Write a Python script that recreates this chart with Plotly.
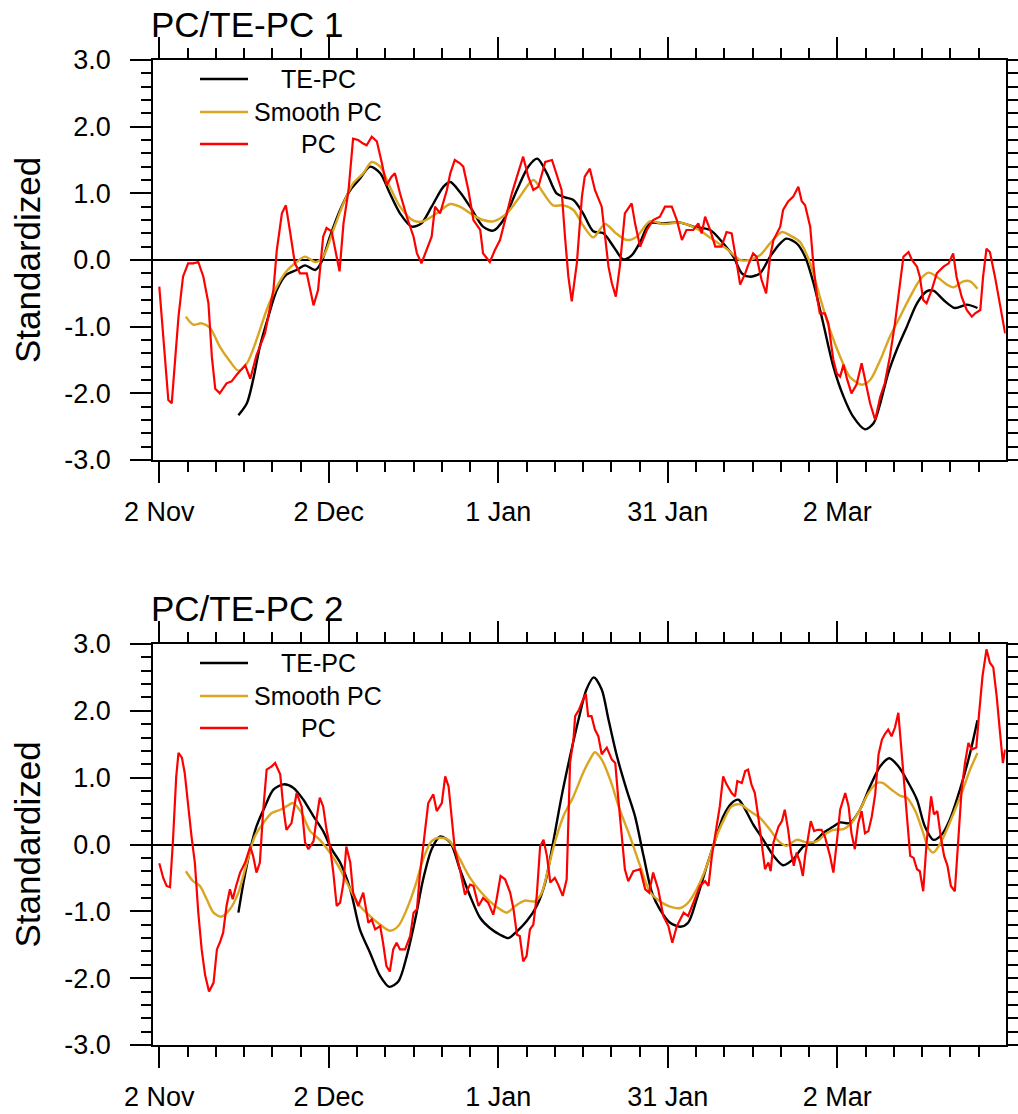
import plotly.graph_objects as go

# ---------------- data ----------------
tick_days = [0, 30, 60, 90, 120]
tick_labels = ["2 Nov", "2 Dec", "1 Jan", "31 Jan", "2 Mar"]
y_tickvals = [-3, -2, -1, 0, 1, 2, 3]
y_ticklabels = ["-3.0", "-2.0", "-1.0", "0.0", "1.0", "2.0", "3.0"]
series_names = ["TE-PC", "Smooth PC", "PC"]
panel_titles = ["PC/TE-PC 1", "PC/TE-PC 2"]

# Panel 1 - PC (red)
pc1_days = [0, 0.8, 1.6, 2.2, 2.8, 3.4, 4.2, 5.1, 6.0, 6.9, 7.8, 8.7, 9.3, 9.9, 10.7, 11.9, 12.8, 13.7,
            15.2, 16.1, 17.2, 18.7, 20.2, 20.8, 21.7, 22.4, 23.1, 24.0, 24.9, 26.1, 27.3, 28.1, 29.0,
            29.6, 30.5, 31.4, 31.9, 32.6, 33.5, 34.3, 35.2, 36.0, 36.7, 37.6, 38.5, 39.4, 40.2, 41.1,
            41.7, 42.6, 43.8, 45.0, 45.6, 46.4, 47.3, 48.2, 48.8, 49.7, 50.9, 51.5, 52.3, 53.2, 53.8,
            54.7, 55.6, 56.8, 57.3, 58.5, 59.4, 60.3, 61.2, 62.4, 63.3, 64.4, 65.3, 66.2, 67.1, 68.3,
            69.5, 70.3, 71.2, 71.8, 72.4, 73.0, 73.9, 74.8, 75.3, 76.2, 77.1, 78.3, 78.9, 79.5, 80.1,
            80.8, 81.5, 82.4, 83.6, 84.2, 85.1, 86.3, 87.4, 88.6, 89.5, 90.7, 91.6, 92.5, 93.3, 94.5,
            95.4, 96.0, 96.6, 97.5, 98.4, 99.5, 100.4, 101.3, 102.2, 102.8, 103.7, 104.2, 105.1, 105.7,
            106.6, 107.4, 108.1, 108.7, 109.9, 110.4, 111.3, 112.2, 113.1, 113.7, 114.3, 115.2, 115.8,
            116.4, 116.9, 117.8, 118.4, 119.3, 119.9, 120.5, 121.1, 121.7, 122.5, 123.4, 124.3, 124.9,
            125.8, 126.7, 127.6, 128.4, 129.3, 130.2, 131.1, 131.7, 132.6, 133.2, 134.1, 134.6, 135.2,
            135.8, 136.7, 137.6, 138.8, 139.7, 140.5, 141.1, 142.0, 142.9, 143.8, 144.4, 145.3, 145.8,
            146.4, 147.0, 147.9, 148.8, 149.7]
pc1_vals = [-0.40, -1.30, -2.10, -2.15, -1.50, -0.85, -0.25, -0.05, -0.05, -0.03, -0.25, -0.65, -1.45,
            -1.93, -2.00, -1.85, -1.82, -1.72, -1.58, -1.78, -1.43, -1.10, -0.45, 0.15, 0.70, 0.82, 0.45,
            -0.05, -0.20, -0.20, -0.68, -0.45, 0.35, 0.48, 0.43, 0.05, -0.17, 0.55, 1.05, 1.82, 1.80,
            1.75, 1.72, 1.85, 1.78, 1.45, 1.12, 1.25, 1.30, 1.00, 0.65, 0.35, 0.10, -0.05, 0.15, 0.35,
            0.80, 0.70, 1.05, 1.30, 1.50, 1.45, 1.40, 1.05, 0.60, 0.45, 0.10, -0.03, 0.15, 0.30, 0.60,
            1.00, 1.25, 1.55, 1.25, 1.05, 1.10, 1.47, 1.50, 1.27, 1.05, 0.35, -0.25, -0.62, -0.05, 0.95,
            1.25, 1.37, 1.05, 0.80, 0.35, -0.10, -0.35, -0.55, -0.10, 0.70, 0.85, 0.55, 0.20, 0.45, 0.60,
            0.65, 0.80, 0.80, 0.60, 0.30, 0.45, 0.45, 0.55, 0.40, 0.65, 0.45, 0.20, 0.20, 0.42, 0.40,
            -0.05, -0.37, -0.20, -0.08, 0.10, 0.05, -0.30, -0.50, 0.05, 0.30, 0.50, 0.75, 0.88, 0.95,
            1.10, 0.88, 0.82, 0.50, -0.10, -0.55, -0.80, -0.80, -0.95, -1.50, -1.70, -1.75, -1.57, -1.78,
            -2.00, -1.87, -1.55, -1.80, -2.15, -2.40, -2.05, -1.85, -1.45, -0.95, -0.35, 0.05, 0.12, 0.00,
            -0.10, -0.25, -0.60, -0.65, -0.45, -0.20, -0.10, -0.05, 0.10, -0.25, -0.55, -0.75, -0.85,
            -0.80, -0.75, -0.25, 0.17, 0.12, -0.25, -0.65, -1.10]

# Panel 1 - TE-PC (black)
te1_days = [14.0, 15.5, 16.6, 17.8, 19.3, 20.8, 22.5, 24.3, 25.8, 27.6, 28.7, 30.2, 32.0, 33.8, 35.5,
            37.3, 39.1, 40.8, 42.6, 44.7, 46.4, 48.2, 50.3, 51.5, 53.2, 55.0, 57.3, 59.1, 60.9, 63.3,
            65.3, 66.9, 68.6, 70.3, 71.8, 73.3, 75.0, 76.8, 78.6, 80.4, 82.1, 83.6, 85.1, 86.8, 89.2,
            92.2, 94.5, 97.5, 99.8, 101.6, 103.1, 104.5, 106.3, 108.1, 109.9, 111.0, 112.8, 114.3,
            115.8, 117.5, 119.3, 121.1, 122.8, 124.9, 126.4, 127.6, 129.0, 130.5, 132.3, 134.1, 135.8,
            137.0, 138.8, 140.8, 142.9, 144.8]
te1_vals = [-2.33, -2.15, -1.80, -1.30, -0.85, -0.45, -0.22, -0.15, -0.08, -0.15, -0.03, 0.35, 0.75,
            1.05, 1.22, 1.40, 1.30, 1.00, 0.70, 0.50, 0.55, 0.80, 1.10, 1.17, 1.02, 0.80, 0.50, 0.44,
            0.60, 1.05, 1.40, 1.52, 1.30, 1.00, 0.94, 0.90, 0.70, 0.43, 0.40, 0.20, 0.01, 0.07, 0.27,
            0.55, 0.55, 0.56, 0.50, 0.45, 0.25, 0.05, -0.20, -0.25, -0.20, 0.05, 0.25, 0.32, 0.25, 0.05,
            -0.35, -0.95, -1.60, -2.05, -2.35, -2.54, -2.45, -2.15, -1.70, -1.35, -1.00, -0.65, -0.47,
            -0.46, -0.60, -0.72, -0.67, -0.72]

# Panel 1 - Smooth PC (goldenrod)
sm1_days = [4.7, 6.0, 7.5, 9.0, 10.7, 12.5, 14.0, 15.5, 17.2, 19.0, 20.8, 22.5, 24.3, 25.8, 27.6, 29.0,
            30.8, 32.6, 34.3, 36.1, 37.6, 39.1, 40.8, 42.6, 45.0, 46.7, 49.1, 51.5, 53.2, 55.6, 57.3,
            59.1, 61.5, 63.8, 66.2, 68.0, 69.7, 71.5, 73.3, 75.0, 76.8, 78.9, 80.7, 82.7, 84.5, 86.8,
            89.2, 92.2, 95.1, 98.1, 100.4, 102.8, 104.5, 106.3, 108.1, 110.2, 111.6, 113.4, 115.2,
            116.9, 118.7, 120.5, 122.2, 124.3, 125.8, 127.6, 129.3, 131.1, 132.9, 134.6, 136.1, 137.6,
            139.4, 140.5, 142.3, 143.5, 144.8]
sm1_vals = [-0.85, -0.97, -0.95, -1.02, -1.30, -1.52, -1.66, -1.55, -1.20, -0.75, -0.40, -0.17, -0.03,
            0.05, -0.03, 0.05, 0.45, 0.85, 1.15, 1.30, 1.47, 1.40, 1.10, 0.80, 0.59, 0.58, 0.70, 0.84,
            0.80, 0.67, 0.60, 0.58, 0.70, 0.95, 1.20, 1.00, 0.82, 0.82, 0.75, 0.52, 0.34, 0.54, 0.41,
            0.30, 0.35, 0.58, 0.54, 0.56, 0.47, 0.30, 0.17, 0.00, 0.00, 0.07, 0.25, 0.42, 0.37, 0.27,
            -0.05, -0.55, -1.05, -1.45, -1.75, -1.87, -1.80, -1.50, -1.15, -0.85, -0.55, -0.30, -0.19,
            -0.25, -0.37, -0.41, -0.32, -0.32, -0.43]

# Panel 2 - PC (red)
pc2_days = [0, 0.7, 1.3, 1.9, 2.4, 3.0, 3.4, 4.0, 4.5, 5.1, 5.7, 6.3, 6.9, 7.5, 8.1, 8.8, 9.6, 10.2, 10.7,
            11.3, 11.9, 12.5, 13.0, 13.6, 14.3, 15.2, 16.1, 16.6, 17.2, 17.8, 18.4, 19.0, 19.9, 20.5,
            21.4, 22.0, 22.5, 23.4, 24.3, 25.2, 25.8, 26.4, 27.3, 27.9, 28.4, 29.0, 29.6, 30.2, 30.8,
            31.4, 32.0, 32.6, 33.1, 33.8, 34.3, 35.2, 36.1, 37.0, 37.6, 38.2, 39.1, 39.6, 40.2, 40.8,
            41.4, 42.0, 42.6, 43.5, 44.4, 45.0, 45.6, 46.1, 46.7, 47.6, 48.5, 49.1, 50.0, 50.6, 51.2,
            51.8, 52.3, 53.2, 54.1, 55.0, 55.6, 56.5, 57.3, 58.2, 59.1, 59.7, 60.4, 61.2, 62.1, 62.7,
            63.3, 63.8, 64.4, 65.0, 65.6, 66.2, 66.8, 67.4, 68.0, 68.6, 69.2, 70.0, 70.6, 71.4, 72.1,
            72.7, 73.3, 73.6, 74.3, 75.0, 75.5, 75.9, 76.5, 77.1, 77.7, 78.3, 79.2, 80.1, 80.7, 81.2,
            81.8, 82.4, 83.0, 83.9, 85.1, 86.0, 86.7, 87.4, 88.3, 89.2, 90.1, 90.8, 91.6, 92.8, 93.6,
            94.5, 95.7, 96.6, 97.2, 97.8, 98.7, 99.2, 99.8, 100.4, 101.3, 101.9, 102.3, 103.1, 103.7,
            104.2, 104.8, 105.4, 106.0, 106.6, 107.2, 107.8, 108.2, 108.7, 109.6, 110.2, 110.7, 111.3,
            111.8, 112.3, 112.8, 113.4, 113.9, 114.3, 114.9, 115.3, 115.9, 116.5, 117.2, 117.8, 118.7,
            119.3, 119.9, 120.5, 121.4, 122.0, 122.5, 123.1, 123.7, 124.3, 124.9, 125.5, 126.1, 126.7,
            127.3, 127.9, 128.4, 129.0, 129.6, 130.2, 130.8, 131.2, 131.7, 132.3, 132.9, 133.5, 134.1,
            134.6, 135.2, 135.8, 136.6, 137.1, 137.7, 138.3, 138.9, 139.5, 140.1, 140.8, 141.4, 142.0,
            142.6, 143.2, 143.8, 144.6, 145.1, 145.7, 146.4, 147.0, 147.6, 148.2, 148.8, 149.3, 149.7]
pc2_vals = [-0.28, -0.50, -0.62, -0.64, 0.03, 1.02, 1.37, 1.30, 1.07, 0.57, 0.12, -0.28, -1.02, -1.57,
            -1.95, -2.20, -2.07, -1.57, -1.47, -1.32, -0.92, -0.67, -0.82, -0.62, -0.42, -0.27, -0.03,
            -0.17, -0.42, -0.27, 0.52, 1.12, 1.17, 1.22, 1.05, 0.52, 0.22, 0.32, 0.77, 0.57, 0.03, -0.07,
            0.05, 0.42, 0.70, 0.57, 0.22, -0.03, -0.42, -0.92, -0.87, -0.57, -0.03, -0.27, -0.72, -0.92,
            -0.72, -1.17, -1.12, -1.27, -1.22, -1.47, -1.82, -1.90, -1.57, -1.47, -1.57, -1.57, -1.37,
            -1.02, -0.97, -0.47, -0.03, 0.62, 0.75, 0.50, 0.62, 1.02, 0.87, 0.37, -0.07, -0.37, -0.75,
            -0.60, -0.62, -0.92, -0.80, -0.87, -1.05, -0.82, -0.47, -0.52, -0.72, -0.97, -1.35, -1.37,
            -1.75, -1.67, -1.27, -1.20, -0.77, -0.03, 0.07, -0.17, -0.57, -0.50, -0.60, -0.77, -0.52,
            1.22, 1.57, 1.92, 2.02, 2.17, 2.25, 1.92, 1.92, 1.72, 1.62, 1.35, 1.45, 1.27, 1.22, 0.72,
            0.22, -0.37, -0.55, -0.40, -0.37, -0.67, -0.72, -0.42, -0.67, -1.07, -1.22, -1.47, -1.22,
            -1.02, -1.07, -0.87, -0.62, -0.55, -0.62, -0.17, 0.32, 0.57, 1.02, 0.90, 0.77, 0.72, 0.95,
            0.92, 1.10, 1.12, 0.90, 0.77, 0.42, 0.03, -0.37, -0.27, -0.40, 0.03, 0.27, 0.35, 0.52, 0.22,
            -0.12, -0.32, -0.12, -0.27, -0.47, -0.17, 0.12, 0.35, 0.20, 0.22, 0.22, 0.12, -0.17, -0.42,
            0.03, 0.52, 0.77, 0.57, 0.17, -0.07, 0.32, 0.50, 0.17, 0.20, 0.42, 0.75, 1.35, 1.57, 1.65,
            1.72, 1.62, 1.75, 1.97, 1.57, 1.02, 0.42, -0.17, -0.20, -0.37, -0.40, -0.70, 0.03, 0.72, 0.45,
            0.50, 0.12, -0.17, -0.32, -0.62, -0.70, 0.03, 0.82, 1.22, 1.52, 1.42, 1.45, 1.97, 2.52, 2.92,
            2.72, 2.65, 2.22, 1.67, 1.22, 1.42]

# Panel 2 - TE-PC (black)
te2_days = [14.0, 14.9, 16.1, 17.2, 18.7, 20.2, 22.0, 23.7, 25.5, 27.3, 29.0, 30.5, 32.0, 33.8, 35.5,
            37.3, 39.1, 40.7, 42.3, 43.8, 45.3, 46.7, 48.2, 49.7, 51.5, 53.2, 55.0, 56.8, 58.5, 60.3,
            61.8, 63.3, 65.0, 66.8, 68.3, 69.7, 71.2, 72.7, 74.2, 75.6, 76.9, 78.3, 79.5, 81.0, 82.7,
            84.2, 85.7, 87.2, 88.6, 90.4, 92.2, 93.6, 95.1, 96.9, 98.4, 99.8, 101.3, 102.5, 103.4,
            105.1, 106.9, 108.7, 110.4, 112.2, 114.0, 115.8, 117.5, 119.3, 120.5, 122.2, 124.0, 125.8,
            127.6, 129.2, 130.8, 132.6, 134.1, 135.5, 137.0, 138.5, 139.9, 141.7, 143.5, 144.8]
te2_vals = [-1.02, -0.57, -0.07, 0.27, 0.57, 0.82, 0.90, 0.85, 0.67, 0.42, 0.20, -0.07, -0.27, -0.67,
            -1.27, -1.62, -1.97, -2.13, -2.05, -1.67, -1.12, -0.52, -0.07, 0.12, 0.03, -0.37, -0.77,
            -1.10, -1.25, -1.35, -1.40, -1.30, -1.15, -0.92, -0.57, 0.03, 0.72, 1.32, 1.87, 2.32, 2.50,
            2.32, 1.87, 1.32, 0.82, 0.42, -0.17, -0.72, -0.97, -1.17, -1.23, -1.17, -0.82, -0.32, 0.07,
            0.42, 0.62, 0.67, 0.57, 0.30, 0.07, -0.17, -0.31, -0.22, -0.03, 0.03, 0.17, 0.27, 0.33,
            0.32, 0.52, 0.87, 1.17, 1.29, 1.17, 0.92, 0.67, 0.27, 0.07, 0.15, 0.37, 0.82, 1.37, 1.86]

# Panel 2 - Smooth PC (goldenrod)
sm2_days = [4.7, 6.0, 7.2, 8.4, 9.6, 11.0, 12.5, 14.0, 15.5, 16.9, 18.4, 19.9, 21.4, 22.5, 23.7, 25.2,
            26.7, 28.4, 30.2, 32.0, 33.8, 35.5, 37.3, 39.1, 40.8, 42.3, 43.8, 45.3, 46.7, 48.2, 49.7,
            51.3, 53.2, 55.0, 56.8, 58.5, 60.3, 61.5, 63.0, 64.7, 66.5, 67.7, 68.8, 70.0, 71.5, 73.3,
            75.0, 76.2, 77.1, 78.3, 79.8, 81.5, 83.3, 85.1, 86.8, 88.6, 90.4, 92.2, 93.6, 95.1, 96.9,
            98.4, 99.8, 101.3, 102.8, 104.5, 106.3, 108.1, 109.6, 111.0, 112.8, 114.6, 116.4, 117.8,
            119.3, 121.1, 122.5, 124.0, 125.5, 127.0, 128.1, 129.6, 131.1, 132.3, 133.8, 135.2, 136.1,
            137.0, 137.9, 139.1, 140.5, 142.0, 143.5, 144.8]
sm2_vals = [-0.40, -0.55, -0.62, -0.82, -1.02, -1.08, -0.97, -0.72, -0.27, 0.12, 0.32, 0.47, 0.52, 0.57,
            0.62, 0.47, 0.20, 0.07, -0.12, -0.37, -0.67, -0.92, -1.07, -1.20, -1.29, -1.22, -0.97,
            -0.62, -0.22, 0.05, 0.10, 0.06, -0.22, -0.50, -0.70, -0.85, -0.97, -1.02, -0.92, -0.84,
            -0.85, -0.72, -0.37, 0.03, 0.42, 0.72, 1.07, 1.27, 1.38, 1.27, 0.97, 0.52, 0.12, -0.32,
            -0.70, -0.85, -0.93, -0.95, -0.87, -0.67, -0.32, 0.07, 0.35, 0.57, 0.60, 0.50, 0.40, 0.22,
            0.05, -0.02, 0.07, 0.03, 0.05, 0.15, 0.22, 0.23, 0.32, 0.52, 0.77, 0.92, 0.92, 0.82, 0.73,
            0.70, 0.50, 0.17, -0.05, -0.12, -0.03, 0.17, 0.45, 0.77, 1.12, 1.37]

# ---------------- styling / layout constants ----------------
W, H = 1018, 1114
FONT = "Liberation Sans, Arial, Helvetica, sans-serif"
COL_TE, COL_SM, COL_PC = "#000000", "#DAA520", "#FF0000"
X_LEFT, X_RIGHT = 153.3, 1005.7
PANELS = [(60, 460), (644, 1045)]  # (top px, bottom px)


def fx(p):
    return p / W


def fy(p):
    return 1 - p / H


fig = go.Figure()
panel_data = [
    (te1_days, te1_vals, sm1_days, sm1_vals, pc1_days, pc1_vals),
    (te2_days, te2_vals, sm2_days, sm2_vals, pc2_days, pc2_vals),
]

for i, (td, tv, sd, sv, pd_, pv) in enumerate(panel_data):
    xa = "x" if i == 0 else "x2"
    ya = "y" if i == 0 else "y2"
    fig.add_trace(go.Scatter(x=td, y=tv, mode="lines", name=series_names[0], xaxis=xa, yaxis=ya,
                             line=dict(color=COL_TE, width=2.4, shape="spline", smoothing=0.8),
                             showlegend=False))
    fig.add_trace(go.Scatter(x=sd, y=sv, mode="lines", name=series_names[1], xaxis=xa, yaxis=ya,
                             line=dict(color=COL_SM, width=2.4, shape="spline", smoothing=0.8),
                             showlegend=False))
    fig.add_trace(go.Scatter(x=pd_, y=pv, mode="lines", name=series_names[2], xaxis=xa, yaxis=ya,
                             line=dict(color=COL_PC, width=2.2),
                             showlegend=False))

axis_common = dict(showline=True, linecolor="black", linewidth=2, mirror="ticks",
                   ticks="outside", ticklen=21, tickwidth=2, tickcolor="black",
                   showgrid=False, automargin=False)

layout = dict(width=W, height=H, margin=dict(l=0, r=0, t=0, b=0, autoexpand=False),
              paper_bgcolor="white", plot_bgcolor="white", showlegend=False,
              font=dict(family=FONT, color="black"))

annotations = []
shapes = []
legend_rows = [19, 52, 84]
legend_cols = [COL_TE, COL_SM, COL_PC]

for i, (top, bot) in enumerate(PANELS):
    sfx = "" if i == 0 else "2"
    layout["xaxis" + sfx] = dict(axis_common, domain=[fx(X_LEFT), fx(X_RIGHT)],
                                 anchor="y" + sfx, range=[-1.06, 149.8],
                                 tickmode="array", tickvals=tick_days, ticktext=tick_labels,
                                 zeroline=False, ticklabelstandoff=6,
                                 tickfont=dict(family=FONT, size=27, color="black"),
                                 minor=dict(tickmode="linear", tick0=0, dtick=5, ticks="outside",
                                            ticklen=10, tickwidth=1.5, tickcolor="black",
                                            showgrid=False))
    layout["yaxis" + sfx] = dict(axis_common, domain=[fy(bot), fy(top)],
                                 anchor="x" + sfx, range=[-3, 3],
                                 tickmode="array", tickvals=y_tickvals, ticktext=y_ticklabels,
                                 zeroline=True, zerolinecolor="black", zerolinewidth=2,
                                 ticklabelstandoff=14,
                                 tickfont=dict(family=FONT, size=27, color="black"),
                                 minor=dict(tickmode="linear", tick0=0, dtick=0.2, ticks="outside",
                                            ticklen=10, tickwidth=1.5, tickcolor="black",
                                            showgrid=False))
    # panel title
    annotations.append(dict(text=panel_titles[i], x=fx(149), y=fy(top - 36), xref="paper",
                            yref="paper", xanchor="left", yanchor="middle", showarrow=False,
                            font=dict(family=FONT, size=35, color="black")))
    # y-axis title
    annotations.append(dict(text="Standardized", x=fx(27), y=fy((top + bot) / 2), xref="paper",
                            yref="paper", xanchor="center", yanchor="middle", showarrow=False,
                            textangle=-90, font=dict(family=FONT, size=35, color="black")))
    # legend (inside top-left)
    for k, name in enumerate(series_names):
        yy = top + legend_rows[k]
        shapes.append(dict(type="line", xref="paper", yref="paper", x0=fx(200), x1=fx(248),
                           y0=fy(yy), y1=fy(yy), line=dict(color=legend_cols[k], width=2.4)))
        annotations.append(dict(text=name, x=fx(318), y=fy(yy), xref="paper", yref="paper",
                                xanchor="center", yanchor="middle", showarrow=False,
                                font=dict(family=FONT, size=25, color="black")))

layout["annotations"] = annotations
layout["shapes"] = shapes
fig.update_layout(**layout)

fig.write_html("out.html", config={"displayModeBar": False},
               post_script="document.body.style.margin='0px';document.body.style.overflow='hidden';")
